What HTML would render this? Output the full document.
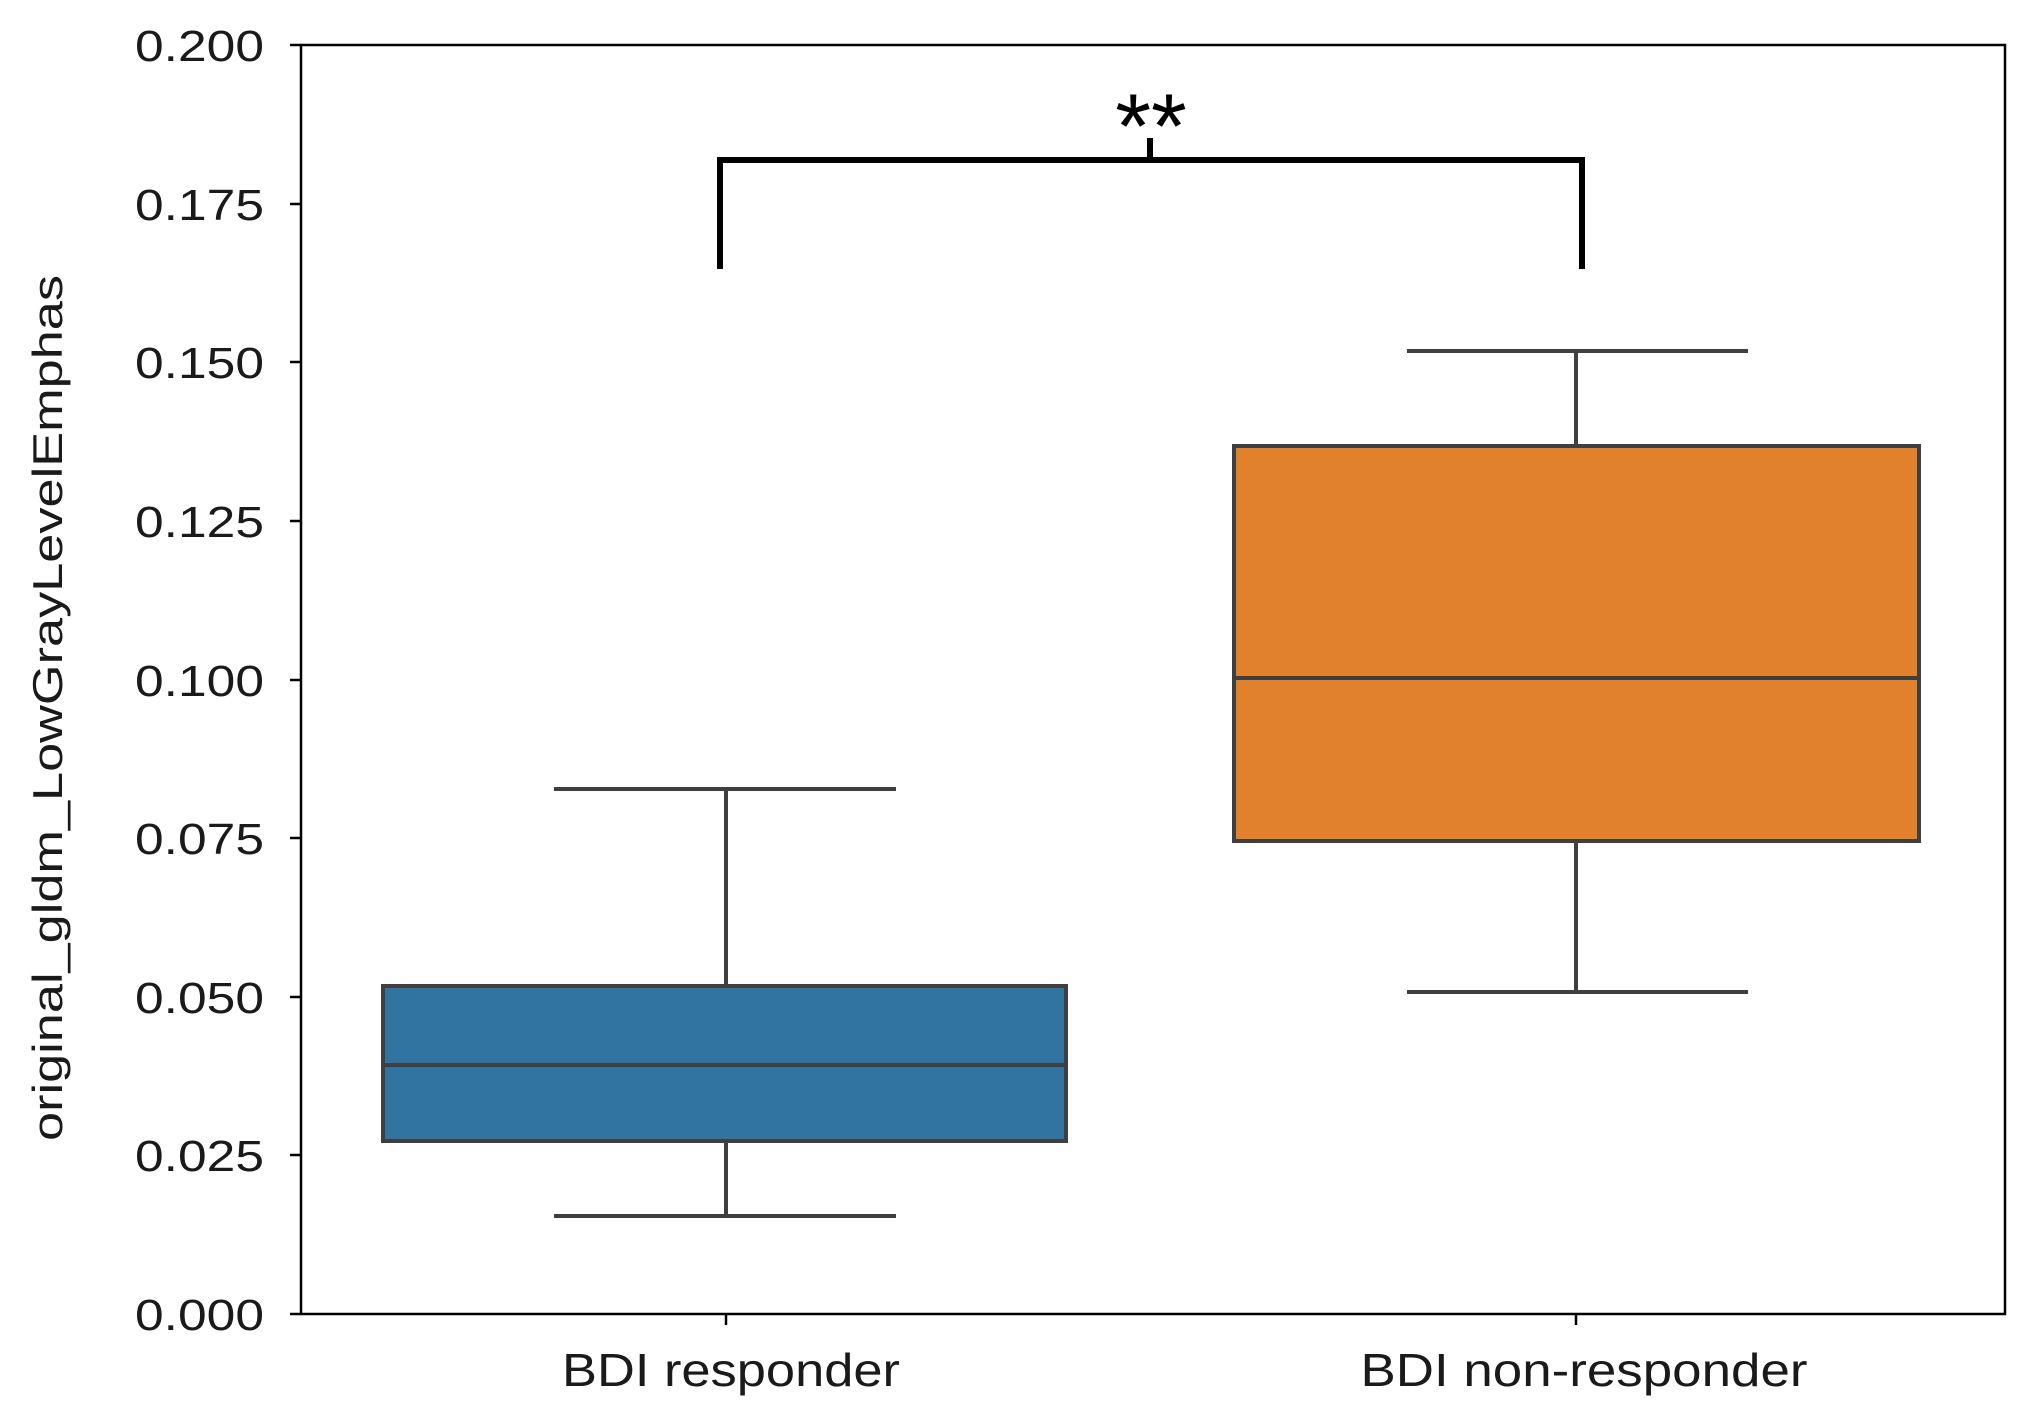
<!DOCTYPE html>
<html><head><style>body{margin:0;background:#fff}</style></head><body>
<svg width="2021" height="1415" xmlns="http://www.w3.org/2000/svg" font-family="Liberation Sans, DejaVu Sans, sans-serif">
<rect width="2021" height="1415" fill="#fff"/>
<g stroke="#3f3f3f" stroke-width="4">
<line x1="726" y1="1216" x2="726" y2="1141"/>
<line x1="726" y1="986" x2="726" y2="789"/>
<line x1="554" y1="1216" x2="896" y2="1216"/>
<line x1="554" y1="789" x2="896" y2="789"/>
<rect x="383" y="986" width="683" height="155" fill="#3274a1"/>
<line x1="383" y1="1065" x2="1066" y2="1065"/>
<line x1="1576" y1="992" x2="1576" y2="841"/>
<line x1="1576" y1="446" x2="1576" y2="351"/>
<line x1="1407" y1="992" x2="1748" y2="992"/>
<line x1="1407" y1="351" x2="1748" y2="351"/>
<rect x="1234" y="446" width="685" height="395" fill="#e1812c"/>
<line x1="1234" y1="678" x2="1919" y2="678"/>
</g>
<rect x="301" y="45" width="1704" height="1269" fill="none" stroke="#000" stroke-width="2.5"/>
<g stroke="#000" stroke-width="2.5">
<line x1="290" y1="45" x2="301" y2="45"/><line x1="290" y1="204" x2="301" y2="204"/>
<line x1="290" y1="362" x2="301" y2="362"/><line x1="290" y1="521" x2="301" y2="521"/>
<line x1="290" y1="680" x2="301" y2="680"/><line x1="290" y1="838" x2="301" y2="838"/>
<line x1="290" y1="997" x2="301" y2="997"/><line x1="290" y1="1155" x2="301" y2="1155"/>
<line x1="290" y1="1314" x2="301" y2="1314"/>
<line x1="726" y1="1314" x2="726" y2="1325"/><line x1="1576" y1="1314" x2="1576" y2="1325"/>
</g>
<g font-size="44" fill="#1a1a1a" text-anchor="end">
<text x="264" y="61" textLength="129" lengthAdjust="spacingAndGlyphs">0.200</text>
<text x="264" y="220" textLength="129" lengthAdjust="spacingAndGlyphs">0.175</text>
<text x="264" y="378" textLength="129" lengthAdjust="spacingAndGlyphs">0.150</text>
<text x="264" y="537" textLength="129" lengthAdjust="spacingAndGlyphs">0.125</text>
<text x="264" y="696" textLength="129" lengthAdjust="spacingAndGlyphs">0.100</text>
<text x="264" y="854" textLength="129" lengthAdjust="spacingAndGlyphs">0.075</text>
<text x="264" y="1013" textLength="129" lengthAdjust="spacingAndGlyphs">0.050</text>
<text x="264" y="1171" textLength="129" lengthAdjust="spacingAndGlyphs">0.025</text>
<text x="264" y="1330" textLength="129" lengthAdjust="spacingAndGlyphs">0.000</text>
</g>
<g font-size="46" fill="#1a1a1a" text-anchor="middle">
<text x="731" y="1386" textLength="338" lengthAdjust="spacingAndGlyphs">BDI responder</text>
<text x="1584" y="1386" textLength="447" lengthAdjust="spacingAndGlyphs">BDI non-responder</text>
<text font-size="42" transform="translate(62,708) rotate(-90)" textLength="866" lengthAdjust="spacingAndGlyphs">original_gldm_LowGrayLevelEmphas</text>
</g>
<path d="M720 269 V160 H1582 V269 M1150 160 V138" fill="none" stroke="#000" stroke-width="6"/>
<text x="1151" y="158" font-size="92" text-anchor="middle" fill="#000">**</text>
</svg>
</body></html>
